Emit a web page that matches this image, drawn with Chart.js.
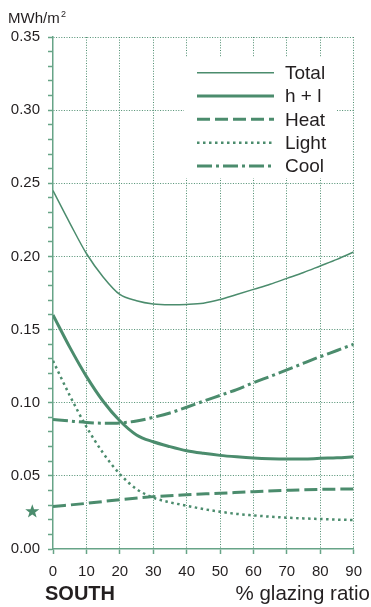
<!DOCTYPE html>
<html lang="en">
<head>
  <meta charset="UTF-8" />
  <title>South glazing ratio</title>
  <script src="https://cdn.jsdelivr.net/npm/chart.js"></script>
  <style>
    body { margin: 0; background: #fff; }
    #wrap { width: 371px; height: 607px; position: relative; }
  </style>
</head>
<body>
  <div id="wrap"><canvas id="chart"></canvas></div>
  <script>
    // values (MWh/m2 vs % glazing ratio)
    const glazing5 = [0, 5, 10, 15, 20, 25, 30, 35, 40, 45, 50, 55, 60, 65, 70, 75, 80, 85, 90];
    const glazing10 = [0, 10, 20, 30, 40, 50, 60, 70, 80, 90];
    const total = [0.245, 0.223, 0.202, 0.186, 0.174, 0.1697, 0.1675, 0.167, 0.1672, 0.168, 0.1705, 0.174, 0.1775, 0.181, 0.185, 0.189, 0.1935, 0.198, 0.203];
    const heatLight = [0.160, 0.138, 0.118, 0.101, 0.0877, 0.078, 0.0733, 0.070, 0.0672, 0.0654, 0.064, 0.063, 0.0622, 0.0617, 0.0615, 0.0615, 0.062, 0.0623, 0.063];
    const heat = [0.029, 0.0312, 0.0337, 0.0358, 0.0371, 0.0381, 0.0392, 0.0401, 0.0408, 0.041];
    const light = [0.1287, 0.105, 0.0836, 0.0656, 0.0513, 0.041, 0.0351, 0.0319, 0.0296, 0.0273, 0.0255, 0.024, 0.023, 0.0221, 0.0214, 0.0209, 0.0205, 0.0201, 0.0198];
    const cool = [0.0886, 0.0875, 0.0865, 0.086, 0.0862, 0.0875, 0.090, 0.093, 0.0969, 0.101, 0.105, 0.109, 0.1137, 0.118, 0.1224, 0.127, 0.1315, 0.1357, 0.140];
    const starPoint = { x: -6.2, y: 0.026 };
    const seriesNames = ['Total', 'h + l', 'Heat', 'Light', 'Cool'];

    const green = '#4b8c6d';
    const axisGreen = '#67a487';
    const gridGreen = '#4e8e70';
    const ink = '#231f20';
    const FONT = '"Liberation Sans", Arial, sans-serif';

    const pts = (xs, ys) => xs.map((x, i) => ({ x: x, y: ys[i] }));

    const line = (label, data, width, dash) => ({
      label: label, data: data, borderColor: green, borderWidth: width, borderDash: dash,
      pointRadius: 0, fill: false, cubicInterpolationMode: 'monotone', borderCapStyle: 'butt'
    });

    const datasets = [
      line(seriesNames[0], pts(glazing5, total), 1.5, []),
      line(seriesNames[1], pts(glazing5, heatLight), 3, []),
      line(seriesNames[2], pts(glazing10, heat), 3, [13, 5]),
      line(seriesNames[3], pts(glazing5, light), 2.5, [2.5, 3.5]),
      line(seriesNames[4], pts(glazing5, cool), 3, [15, 4, 3, 4])
    ];

    const legendBox = {
      id: 'legendBox',
      beforeDatasetsDraw(chart) {
        const ctx = chart.ctx;
        ctx.save();
        ctx.fillStyle = '#fff';
        ctx.fillRect(184, 57, 153, 121);
        const rows = [72.7, 96, 119.3, 142.7, 166];
        chart.data.datasets.forEach((ds, i) => {
          ctx.strokeStyle = ds.borderColor;
          ctx.lineWidth = ds.borderWidth;
          ctx.setLineDash(ds.borderDash);
          ctx.beginPath();
          ctx.moveTo(197, rows[i]);
          ctx.lineTo(274, rows[i]);
          ctx.stroke();
          ctx.setLineDash([]);
          ctx.fillStyle = ink;
          ctx.font = '19px ' + FONT;
          ctx.textBaseline = 'middle';
          ctx.fillText(ds.label, 285, rows[i] + 1);
        });
        ctx.restore();
      }
    };

    // star marker sits left of the y axis, outside the chart area
    const starMark = {
      id: 'starMark',
      afterDatasetsDraw(chart) {
        const ctx = chart.ctx;
        const cx = chart.scales.x.getPixelForValue(starPoint.x);
        const cy = chart.scales.y.getPixelForValue(starPoint.y);
        ctx.save();
        ctx.fillStyle = green;
        ctx.beginPath();
        for (let i = 0; i < 10; i++) {
          const r = i % 2 ? 3 : 7.4;
          const a = -Math.PI / 2 + i * Math.PI / 5;
          const px = cx + r * Math.cos(a), py = cy + 0.6 + r * Math.sin(a);
          i ? ctx.lineTo(px, py) : ctx.moveTo(px, py);
        }
        ctx.closePath();
        ctx.fill();
        ctx.restore();
      }
    };

    const labels = {
      id: 'labels',
      afterDraw(chart) {
        const ctx = chart.ctx;
        ctx.save();
        ctx.fillStyle = ink;
        ctx.textBaseline = 'alphabetic';
        ctx.font = '15px ' + FONT;
        ctx.fillText('MWh/m', 8, 23);
        ctx.font = '9px ' + FONT;
        ctx.fillText('2', 61, 17);
        ctx.font = 'bold 20px ' + FONT;
        ctx.fillText('SOUTH', 45, 600);
        ctx.font = '20.5px ' + FONT;
        ctx.textAlign = 'right';
        ctx.fillText('% glazing ratio', 370, 600);
        ctx.restore();
      }
    };

    const isMajor = v => Math.round(v * 100) % 5 === 0;

    new Chart(document.getElementById('chart'), {
      type: 'line',
      data: { datasets: datasets },
      options: {
        responsive: true,
        maintainAspectRatio: false,
        animation: false,
        layout: { padding: { top: 37, right: 14, left: 0, bottom: 0 } },
        plugins: { legend: { display: false }, tooltip: { enabled: false } },
        scales: {
          x: {
            type: 'linear', min: 0, max: 90,
            afterFit: s => { s.height = 58; },
            ticks: { stepSize: 10, color: ink, font: { family: FONT, size: 15 }, padding: 9, maxRotation: 0 },
            grid: {
              color: c => (c.tick && c.tick.value > 0) ? gridGreen : 'rgba(0,0,0,0)',
              lineWidth: 1, tickLength: 5, tickColor: axisGreen, tickWidth: 1.5
            },
            border: { color: axisGreen, width: 1.5, dash: [1, 1.6] }
          },
          y: {
            min: 0, max: 0.35,
            afterFit: s => { s.width = 53; },
            afterBuildTicks: s => {
              s.ticks = [];
              for (let i = 0; i <= 35; i++) s.ticks.push({ value: i / 100 });
            },
            ticks: {
              autoSkip: false, color: ink, font: { family: FONT, size: 15 }, padding: 8,
              callback: v => isMajor(v) ? v.toFixed(2) : ''
            },
            grid: {
              color: c => (c.tick && c.tick.value > 0 && isMajor(c.tick.value)) ? gridGreen : 'rgba(0,0,0,0)',
              lineWidth: 1, tickLength: 5, tickColor: axisGreen, tickWidth: 1.5
            },
            border: { color: axisGreen, width: 1.5, dash: [1, 1.6] }
          }
        }
      },
      plugins: [legendBox, starMark, labels]
    });
  </script>
</body>
</html>
